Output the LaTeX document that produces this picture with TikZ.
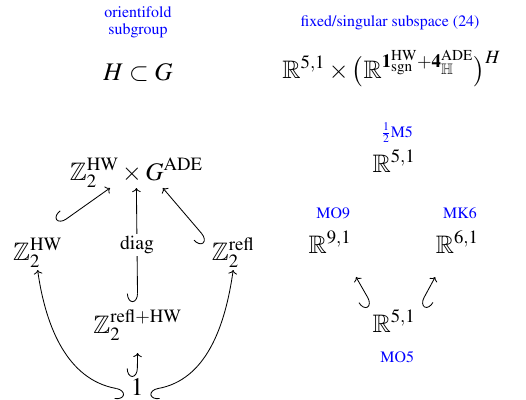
\documentclass[tikz,border=0pt]{standalone}
\usepackage[T1]{fontenc}
\usepackage{mathptmx}
\usepackage{amssymb}
\usepackage{tikz}
\usetikzlibrary{arrows.meta}
\newcommand{\objfont}{\fontsize{18}{21}\selectfont}
\newcommand{\lblfont}{\fontsize{11.3}{12.2}\selectfont}
\tikzset{
  obj/.style      = {font=\objfont,inner sep=1pt,anchor=base},
  lbl/.style      = {font=\lblfont,text=blue,inner sep=1pt},
  hookarr/.style  = {{Hooks[right,length=6pt,width=15pt]}->,line width=0.6pt},
  hookarrb/.style = {{Hooks[left,length=6pt,width=15pt]}->,line width=0.6pt}
}

\begin{document}
\begin{tikzpicture}
  \useasboundingbox (0,0) rectangle (13.15,9.975);
  % headings
  \node[lbl,align=center] (orient) at (3.45,9.425) {orientifold\\subgroup};
  \node[obj] (hg) at (3.45,7.975) {$H\subset G$};
  \node[lbl,anchor=base] (fixed) at (9.75,9.325) {fixed/singular subspace (24)};
  \node[obj] (rx) at (9.79,8.025)
    {$\mathbb{R}^{5,1}\times\bigl(\mathbb{R}^{\mathbf{1}^{\mathrm{HW}}_{\mathrm{sgn}}+\mathbf{4}^{\mathrm{ADE}}_{\mathbb{H}}}\bigr)^{H}$};
  % subgroups
  \node[obj] (top)   at (3.41,5.475) {$\mathbb{Z}_2^{\mathrm{HW}}\times G^{\mathrm{ADE}}$};
  \node[obj] (zhw)   at (0.94,3.475) {$\mathbb{Z}_2^{\mathrm{HW}}$};
  \node[obj] (zrefl) at (5.83,3.475) {$\mathbb{Z}_2^{\mathrm{refl}}$};
  \node[obj] (zrh)   at (3.44,1.65)  {$\mathbb{Z}_2^{\mathrm{refl}+\mathrm{HW}}$};
  \node[obj] (one)   at (3.43,0.1)   {$1$};
  \draw[hookarr] ([shift={(0.54,0.9)}]zhw.base) -- ([shift={(-0.66,-0.2)}]top.base);
  \draw[hookarr] ([shift={(-0.65,0.5)}]zrefl.base) -- ([shift={(0.66,-0.2)}]top.base);
  \draw[hookarr] ([shift={(0,0.775)}]zrh.base) -- ([shift={(0,-0.2)}]top.base)
    node[midway,fill=white,inner sep=1.5pt,font=\fontsize{14}{16}\selectfont] (diag) {diag};
  \draw[hookarr] ([shift={(-0.31,0.125)}]one.base) to[out=170,in=-82] ([shift={(0,-0.25)}]zhw.base);
  \draw[hookarrb] ([shift={(0.31,0.125)}]one.base) to[out=10,in=-98] ([shift={(0,-0.25)}]zrefl.base);
  \draw[hookarr] ([shift={(0,0.45)}]one.base) -- ([shift={(0,-0.5)}]zrh.base);
  % branes
  \node[lbl,anchor=base] (half) at (9.93,6.55)  {$\frac{1}{2}$M5};
  \node[obj] (rtop) at (9.85,5.675) {$\mathbb{R}^{5,1}$};
  \node[lbl,anchor=base] (mo9)  at (8.33,4.525) {MO9};
  \node[obj] (rnine) at (8.25,3.65) {$\mathbb{R}^{9,1}$};
  \node[lbl,anchor=base] (mk6)  at (11.5,4.525) {MK6};
  \node[obj] (rsix) at (11.43,3.65) {$\mathbb{R}^{6,1}$};
  \node[obj] (rbot) at (9.85,1.675) {$\mathbb{R}^{5,1}$};
  \node[lbl,anchor=base] (mo5)  at (9.93,0.925) {MO5};
  \draw[hookarr]  ([shift={(-0.55,0.675)}]rbot.base) -- ([shift={(0.65,-0.6)}]rnine.base);
  \draw[hookarrb] ([shift={(0.65,0.675)}]rbot.base) -- ([shift={(-0.55,-0.6)}]rsix.base);
\end{tikzpicture}
\end{document}
